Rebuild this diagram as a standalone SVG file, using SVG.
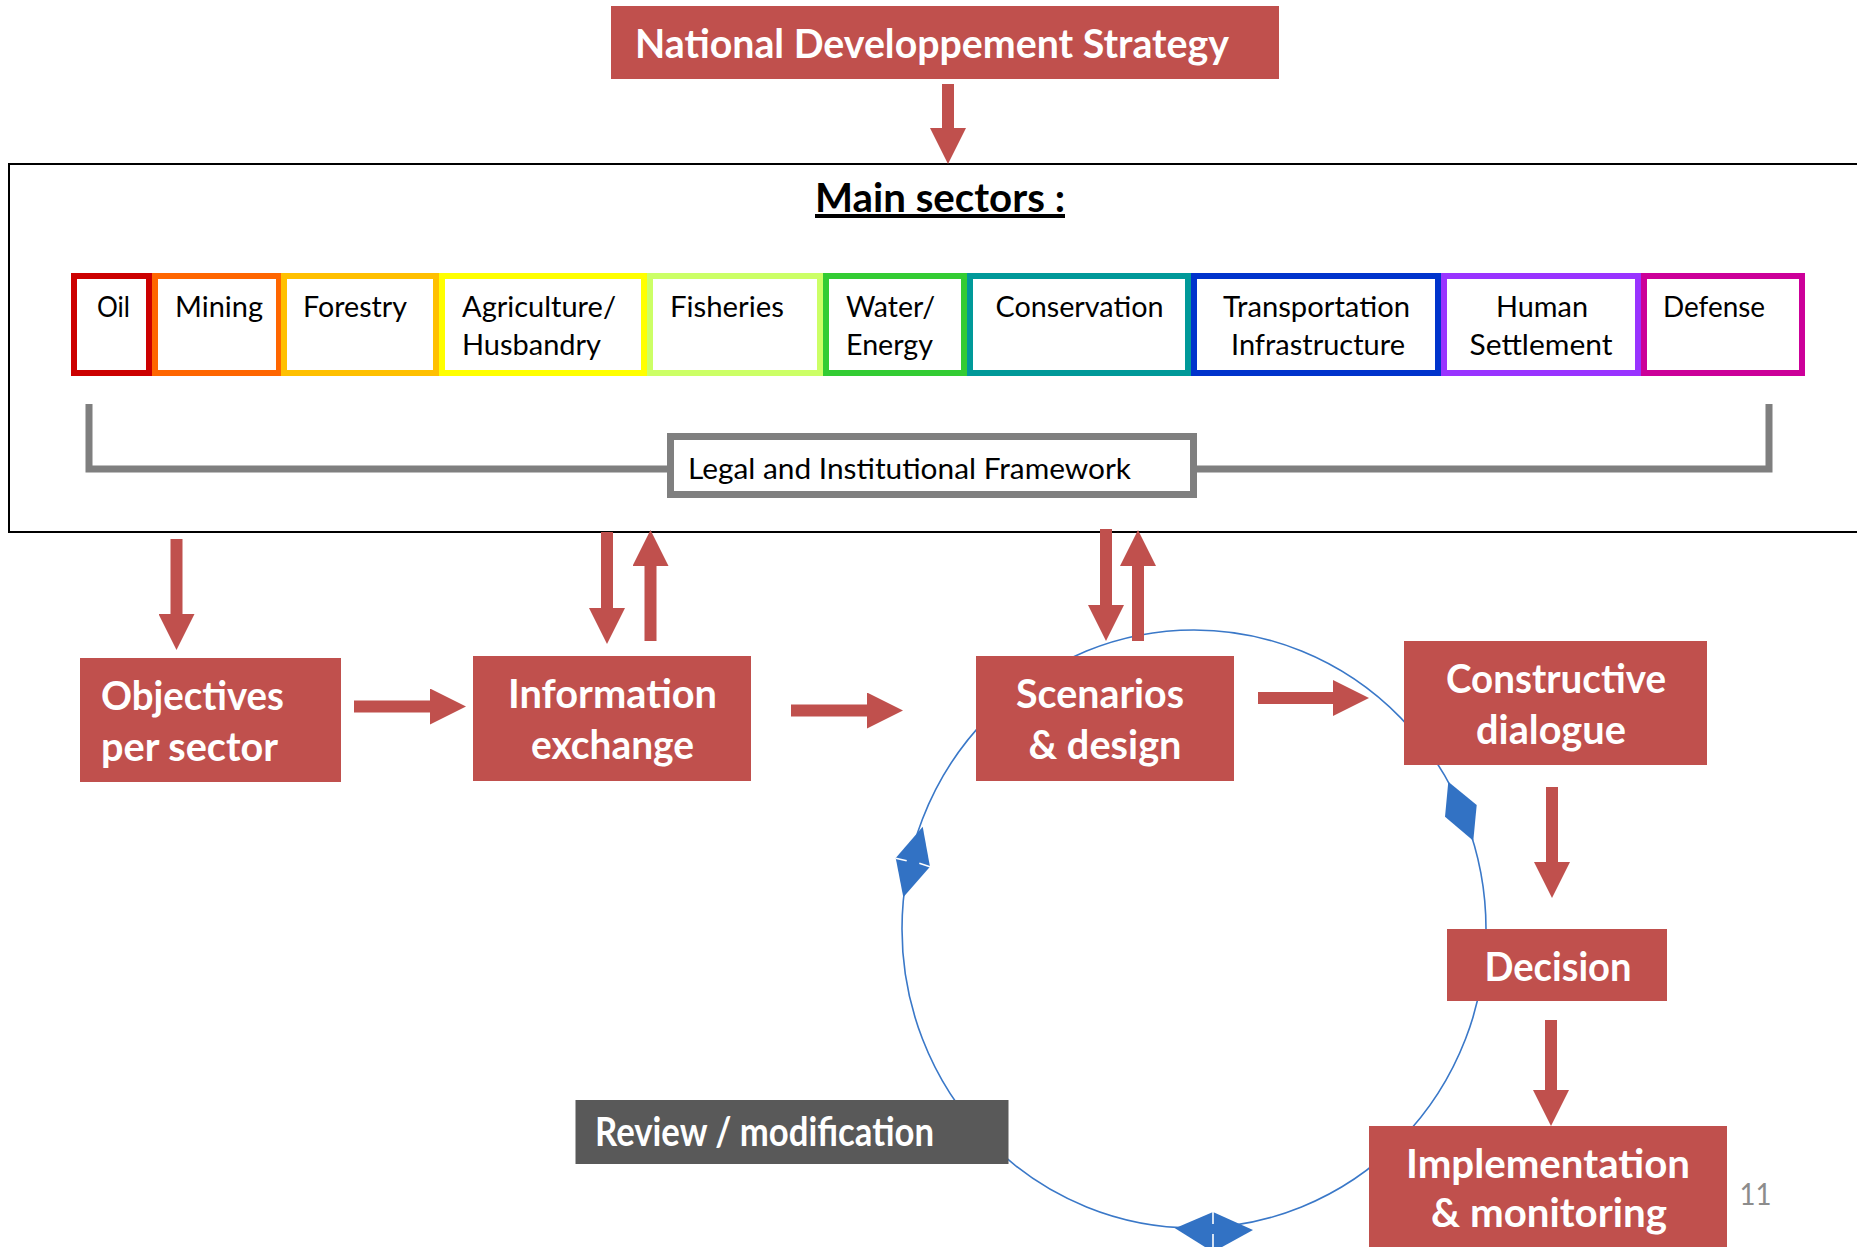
<svg xmlns="http://www.w3.org/2000/svg" width="1857" height="1247" viewBox="0 0 1857 1247">
<style>
.nd{fill:#C0504D}
.nt{font-family:Lato,"Open Sans",sans-serif;font-weight:bold;fill:#fff;font-size:40px}
.st{font-family:Lato,"Open Sans",sans-serif;font-size:29px;fill:#000}
.sec{fill:#fff;stroke-width:6}
.ar{stroke:#C0504D;stroke-width:12;fill:none;marker-end:url(#ah)}
.br{stroke:#7F7F7F;stroke-width:7;fill:none}
.bd{fill:#3272C4}
.wd{stroke:#fff;stroke-width:1.6}
</style>
<defs>
<marker id="ah" markerUnits="userSpaceOnUse" markerWidth="36" markerHeight="36" viewBox="0 0 36 36" refX="0" refY="18" orient="auto">
<path d="M0,0 L36,18 L0,36 z" fill="#C0504D"/>
</marker>
</defs>
<rect width="1857" height="1247" fill="#fff"/>

<g id="main-sectors-frame">
<rect x="9" y="164" width="1900" height="368" fill="none" stroke="#000" stroke-width="2"/>
<text x="940" y="212" text-anchor="middle" font-family="Lato,'Open Sans',sans-serif" font-weight="bold" font-size="40" text-decoration="underline" textLength="250" lengthAdjust="spacingAndGlyphs">Main sectors :</text>
</g>

<g id="connectors">
<ellipse cx="1194" cy="929" rx="292" ry="299" fill="none" stroke="#3A78C8" stroke-width="1.6"/>
<line class="ar" x1="948" y1="84" x2="948" y2="128"/>
<line class="ar" x1="176.5" y1="539" x2="176.5" y2="614"/>
<line class="ar" x1="607" y1="532" x2="607" y2="608"/>
<line class="ar" x1="650.5" y1="641" x2="650.5" y2="566"/>
<line class="ar" x1="1106" y1="529" x2="1106" y2="605"/>
<line class="ar" x1="1138" y1="641" x2="1138" y2="566"/>
<line class="ar" x1="1552" y1="787" x2="1552" y2="862"/>
<line class="ar" x1="1551" y1="1020" x2="1551" y2="1090"/>
<line class="ar" x1="354" y1="706.5" x2="430" y2="706.5"/>
<line class="ar" x1="791" y1="710.5" x2="867" y2="710.5"/>
<line class="ar" x1="1258" y1="698" x2="1333" y2="698"/>
<polygon class="bd" points="922.7,826.7 930,866.7 903.3,897.3 895.7,858"/>
<line class="wd" x1="895.7" y1="858.3" x2="906.7" y2="860.7"/>
<line class="wd" x1="919.3" y1="863.3" x2="930" y2="866.7"/>
<polygon class="bd" points="1448.3,781.7 1476.7,805 1473.3,840.7 1445,816.7"/>
<polygon class="bd" points="1175,1228.3 1213,1212 1253,1230 1213,1252"/>
<line class="wd" x1="1213" y1="1211" x2="1213" y2="1224"/>
<line class="wd" x1="1213" y1="1234" x2="1213" y2="1247"/>
</g>

<g id="national-strategy">
<rect class="nd" x="611" y="6" width="668" height="73"/>
<text class="nt" x="635" y="58" font-size="40" textLength="594" lengthAdjust="spacingAndGlyphs">National Developpement Strategy</text>
</g>

<g id="sectors">
<g id="oil"><rect class="sec" stroke="#CC0000" x="74" y="276" width="75" height="97"/><text class="st" x="97" y="317" textLength="33" lengthAdjust="spacingAndGlyphs">Oil</text></g>
<g id="mining"><rect class="sec" stroke="#FF6600" x="155" y="276" width="124" height="97"/><text class="st" x="175" y="317" textLength="88" lengthAdjust="spacingAndGlyphs">Mining</text></g>
<g id="forestry"><rect class="sec" stroke="#FFC000" x="284" y="276" width="152" height="97"/><text class="st" x="303" y="317" textLength="104" lengthAdjust="spacingAndGlyphs">Forestry</text></g>
<g id="agriculture"><rect class="sec" stroke="#FFFF00" x="442" y="276" width="202" height="97"/><text class="st" x="462" y="317" textLength="154" lengthAdjust="spacingAndGlyphs">Agriculture/</text><text class="st" x="462" y="355" textLength="139" lengthAdjust="spacingAndGlyphs">Husbandry</text></g>
<g id="fisheries"><rect class="sec" stroke="#CCFF66" x="650" y="276" width="170" height="97"/><text class="st" x="670" y="317" textLength="114" lengthAdjust="spacingAndGlyphs">Fisheries</text></g>
<g id="water"><rect class="sec" stroke="#33CC33" x="826" y="276" width="138" height="97"/><text class="st" x="846" y="317" textLength="89" lengthAdjust="spacingAndGlyphs">Water/</text><text class="st" x="846" y="355" textLength="87" lengthAdjust="spacingAndGlyphs">Energy</text></g>
<g id="conservation"><rect class="sec" stroke="#009999" x="970" y="276" width="218" height="97"/><text class="st" x="995.5" y="317" textLength="168" lengthAdjust="spacingAndGlyphs">Conservation</text></g>
<g id="transportation"><rect class="sec" stroke="#0033CC" x="1194" y="276" width="244" height="97"/><text class="st" x="1316.5" y="317" text-anchor="middle" textLength="187" lengthAdjust="spacingAndGlyphs">Transportation</text><text class="st" x="1318" y="355" text-anchor="middle" textLength="174" lengthAdjust="spacingAndGlyphs">Infrastructure</text></g>
<g id="human"><rect class="sec" stroke="#9933FF" x="1444" y="276" width="194" height="97"/><text class="st" x="1542" y="317" text-anchor="middle" textLength="92" lengthAdjust="spacingAndGlyphs">Human</text><text class="st" x="1541" y="355" text-anchor="middle" textLength="143" lengthAdjust="spacingAndGlyphs">Settlement</text></g>
<g id="defense"><rect class="sec" stroke="#CC0099" x="1644" y="276" width="158" height="97"/><text class="st" x="1663" y="317" textLength="102" lengthAdjust="spacingAndGlyphs">Defense</text></g>
</g>

<g id="legal-framework">
<path class="br" d="M89,404 V469 H670 M1194,469 H1769 V404"/>
<rect x="670.5" y="436.5" width="523" height="58" fill="#fff" stroke="#7F7F7F" stroke-width="7"/>
<text class="st" x="688" y="479" font-size="30" textLength="443" lengthAdjust="spacingAndGlyphs">Legal and Institutional Framework</text>
</g>

<g id="objectives">
<rect class="nd" x="80" y="658" width="261" height="124"/>
<text class="nt" x="101" y="710" textLength="183" lengthAdjust="spacingAndGlyphs">Objectives</text>
<text class="nt" x="101" y="761" textLength="177" lengthAdjust="spacingAndGlyphs">per sector</text>
</g>

<g id="information">
<rect class="nd" x="473" y="656" width="278" height="125"/>
<text class="nt" x="612.5" y="708" text-anchor="middle" textLength="209" lengthAdjust="spacingAndGlyphs">Information</text>
<text class="nt" x="612.5" y="759" text-anchor="middle" textLength="163" lengthAdjust="spacingAndGlyphs">exchange</text>
</g>

<g id="scenarios">
<rect class="nd" x="976" y="656" width="258" height="125"/>
<text class="nt" x="1100" y="708" text-anchor="middle" textLength="168" lengthAdjust="spacingAndGlyphs">Scenarios</text>
<text class="nt" x="1105" y="759" text-anchor="middle" textLength="153" lengthAdjust="spacingAndGlyphs">&amp; design</text>
</g>

<g id="constructive">
<rect class="nd" x="1404" y="641" width="303" height="124"/>
<text class="nt" x="1556" y="693" text-anchor="middle" textLength="220" lengthAdjust="spacingAndGlyphs">Constructive</text>
<text class="nt" x="1551" y="744" text-anchor="middle" textLength="150" lengthAdjust="spacingAndGlyphs">dialogue</text>
</g>

<g id="decision">
<rect class="nd" x="1447" y="929" width="220" height="72"/>
<text class="nt" x="1558" y="981" text-anchor="middle" textLength="147" lengthAdjust="spacingAndGlyphs">Decision</text>
</g>

<g id="implementation">
<rect class="nd" x="1369" y="1126" width="358" height="130"/>
<text class="nt" x="1548" y="1178" text-anchor="middle" textLength="284" lengthAdjust="spacingAndGlyphs">Implementation</text>
<text class="nt" x="1549" y="1227" text-anchor="middle" textLength="236" lengthAdjust="spacingAndGlyphs">&amp; monitoring</text>
</g>

<g id="review">
<rect x="575.5" y="1100" width="433" height="64" fill="#595959"/>
<text class="nt" x="595" y="1146" font-size="36" textLength="339" lengthAdjust="spacingAndGlyphs">Review / modification</text>
</g>

<text x="1739.5" y="1205" font-family="Lato,'Open Sans',sans-serif" font-size="30" fill="#8C8C8C" textLength="32" lengthAdjust="spacingAndGlyphs">11</text>
</svg>
